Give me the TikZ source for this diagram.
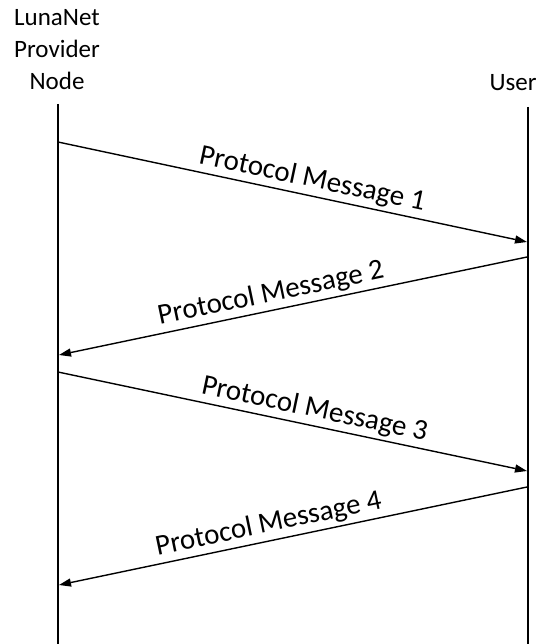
\documentclass[tikz,border=0pt]{standalone}
\usepackage{fontspec}
\setmainfont{Carlito}
\usetikzlibrary{arrows.meta}
\begin{document}
\begin{tikzpicture}[x=1pt,y=-1pt,
  life/.style={line width=2pt},
  msg/.style={line width=1.4pt,-{Triangle[length=12pt,width=8pt]}},
  lbl/.style={font=\fontsize{29}{30}\selectfont,sloped,above,inner sep=3pt},
  head/.style={font=\fontsize{25}{32}\selectfont,align=center}]
\fill[white] (0,0) rectangle (542,644);
\useasboundingbox (0,0) rectangle (542,644);
% lifeline heads
\node[head] (prov) at (57,50) {LunaNet\\Provider\\Node};
\node[head,anchor=base] (user) at (513,91) {User};
% lifelines
\coordinate (lt) at (58,104);
\coordinate (lb) at (58,644);
\coordinate (rt) at (528,107);
\coordinate (rb) at (528,644);
\draw[life] (lt) -- (lb);
\draw[life] (rt) -- (rb);
% message endpoints
\coordinate (m1s) at (58,142);  \coordinate (m1e) at (527,242);
\coordinate (m2s) at (527,257); \coordinate (m2e) at (59,355);
\coordinate (m3s) at (58,372);  \coordinate (m3e) at (527,471);
\coordinate (m4s) at (527,487); \coordinate (m4e) at (59,585);
\draw[msg] (m1s) -- node[lbl,pos=0.535] (t1) {Protocol Message 1} (m1e);
\draw[msg] (m2s) -- node[lbl,pos=0.54] (t2) {Protocol Message 2} (m2e);
\draw[msg] (m3s) -- node[lbl,pos=0.54] (t3) {Protocol Message 3} (m3e);
\draw[msg] (m4s) -- node[lbl,pos=0.545] (t4) {Protocol Message 4} (m4e);
\end{tikzpicture}
\end{document}
